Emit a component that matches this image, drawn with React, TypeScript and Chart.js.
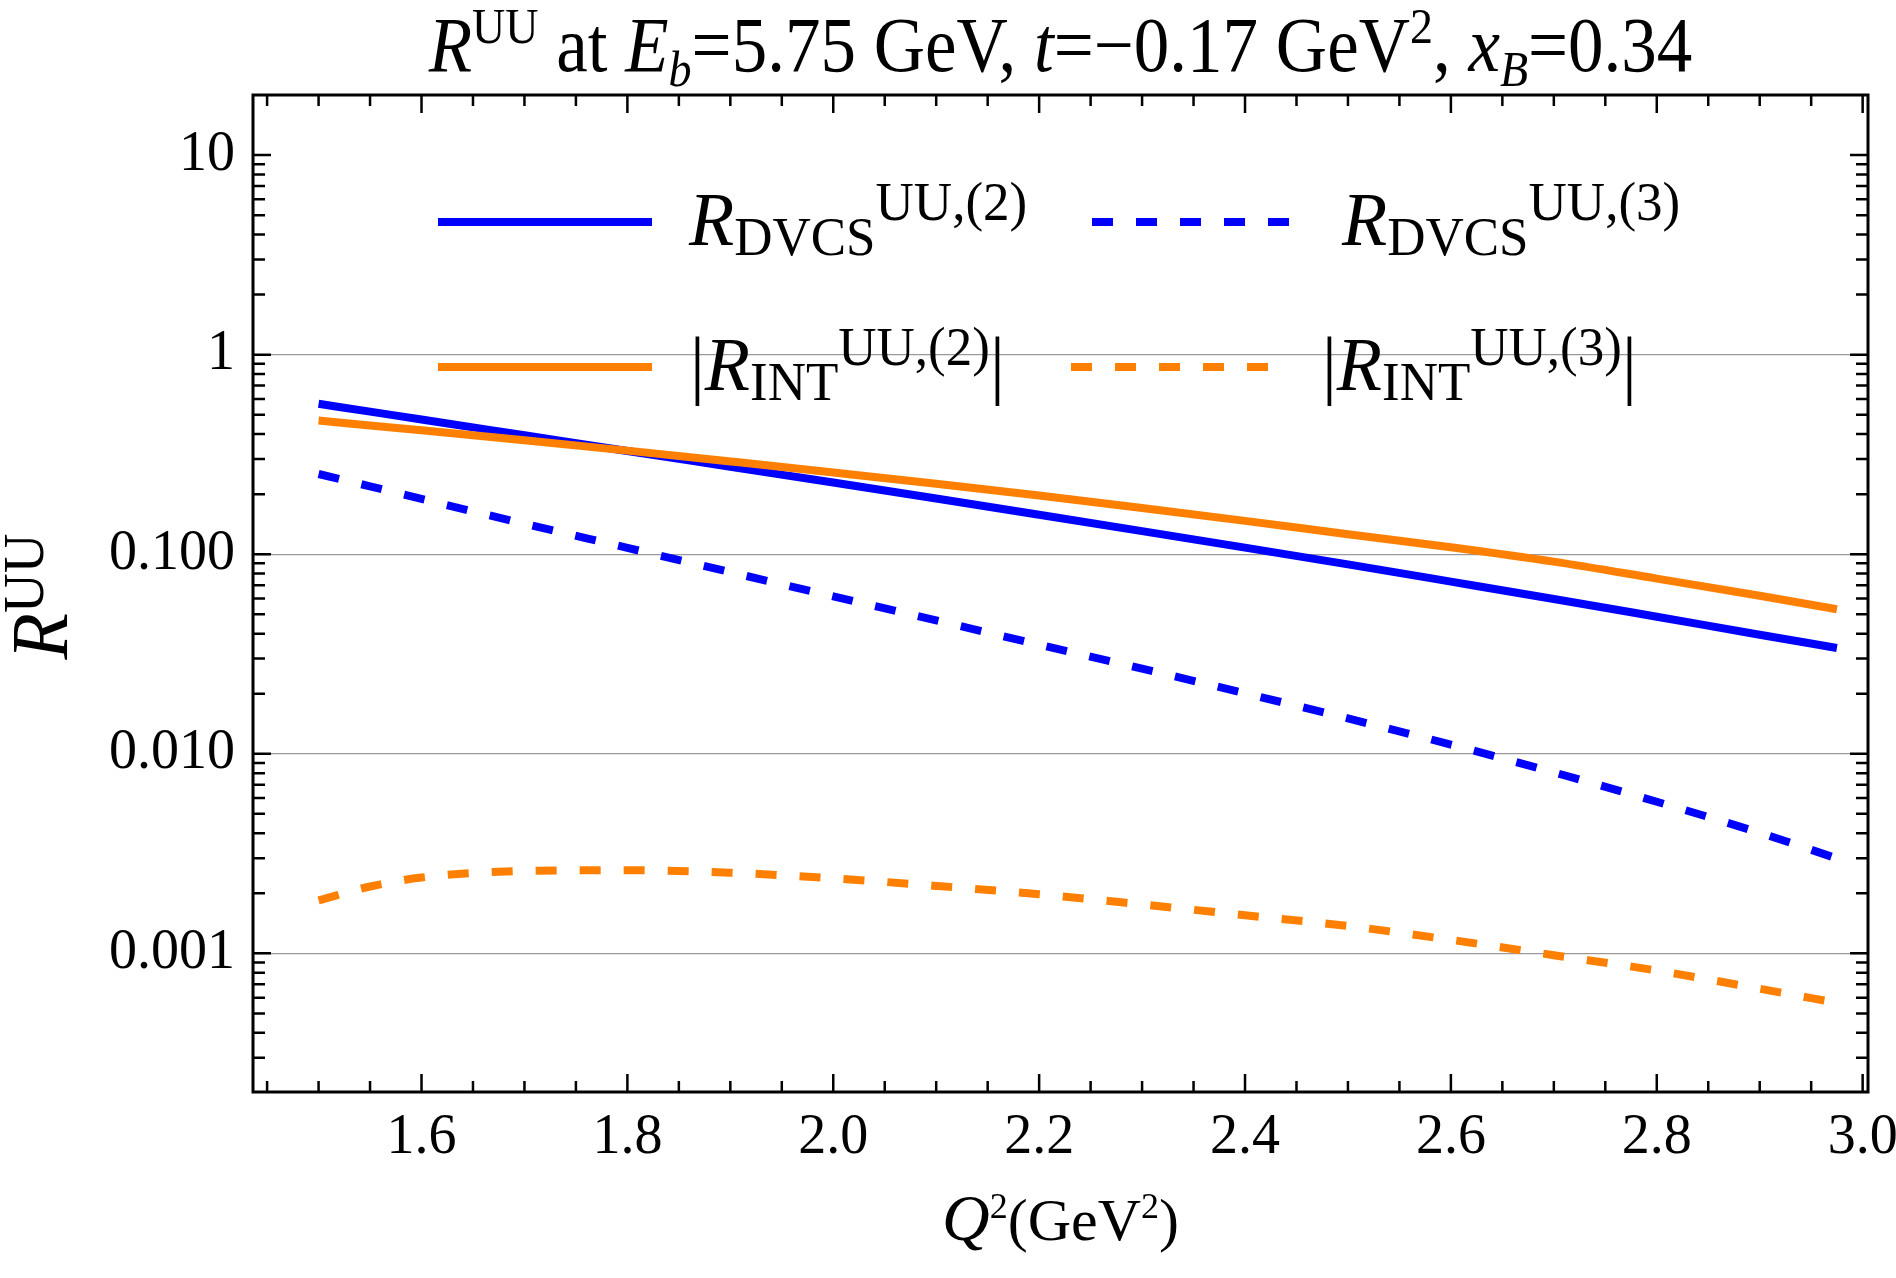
import { useEffect, useRef } from 'react';
import { Chart, registerables } from 'chart.js';

Chart.register(...registerables);

// ---------------- data ----------------
const Q2 = [1.5, 1.55, 1.6, 1.7, 1.8, 1.9, 2.0, 2.1, 2.2, 2.3, 2.4, 2.5, 2.6, 2.7, 2.8, 2.9, 2.975];

const R_DVCS_2 = [0.5675, 0.518, 0.4732, 0.3945, 0.3289, 0.2742, 0.2286, 0.1901, 0.1578, 0.1306, 0.1079, 0.0889, 0.0729, 0.0597, 0.0486, 0.0395, 0.0339];
const R_DVCS_3 = [0.2523, 0.2188, 0.1892, 0.1422, 0.1076, 0.0813, 0.0615, 0.0466, 0.0352, 0.0267, 0.0201, 0.01503, 0.01112, 0.00807, 0.00575, 0.00402, 0.00299];
const R_INT_2 = [0.4677, 0.4418, 0.4178, 0.3724, 0.3304, 0.2917, 0.257, 0.2254, 0.1968, 0.1706, 0.1469, 0.1259, 0.1084, 0.0918, 0.0755, 0.0619, 0.053];
const R_INT_3 = [0.001841, 0.002163, 0.002399, 0.002588, 0.002612, 0.002535, 0.002377, 0.002178, 0.001977, 0.001758, 0.001552, 0.001371, 0.001169, 0.000979, 0.00082, 0.000665, 0.000565];

const SERIES_NAMES = ['R_DVCS^UU,(2)', 'R_DVCS^UU,(3)', '|R_INT^UU,(2)|', '|R_INT^UU,(3)|'];

const X_TICKS = [1.6, 1.8, 2.0, 2.2, 2.4, 2.6, 2.8, 3.0];
const X_TICK_LABELS = ['1.6', '1.8', '2.0', '2.2', '2.4', '2.6', '2.8', '3.0'];
const Y_TICKS = [10, 1, 0.1, 0.01, 0.001];
const Y_TICK_LABELS = ['10', '1', '0.100', '0.010', '0.001'];

type Seg = { t: string; i?: boolean; s?: 'sup' | 'sub'; size?: number };

const TITLE: Seg[] = [
  { t: 'R', i: true }, { t: 'UU', s: 'sup' }, { t: ' at ' }, { t: 'E', i: true }, { t: 'b', i: true, s: 'sub' },
  { t: '=5.75 GeV, ' }, { t: 't', i: true }, { t: '=\u22120.17 GeV' }, { t: '2', s: 'sup' }, { t: ', ' },
  { t: 'x', i: true }, { t: 'B', i: true, s: 'sub' }, { t: '=0.34' },
];
const Y_TITLE: Seg[] = [{ t: 'R', i: true }, { t: 'UU', s: 'sup' }];
const X_TITLE: Seg[] = [{ t: 'Q', i: true, size: 66 }, { t: '2', s: 'sup' }, { t: '(GeV' }, { t: '2', s: 'sup' }, { t: ')' }];
const LEGEND_LABELS: Seg[][] = [
  [{ t: 'R', i: true }, { t: 'DVCS', s: 'sub' }, { t: 'UU,(2)', s: 'sup' }],
  [{ t: 'R', i: true }, { t: 'DVCS', s: 'sub' }, { t: 'UU,(3)', s: 'sup' }],
  [{ t: '|' }, { t: 'R', i: true }, { t: 'INT', s: 'sub' }, { t: 'UU,(2)', s: 'sup' }, { t: '|' }],
  [{ t: '|' }, { t: 'R', i: true }, { t: 'INT', s: 'sub' }, { t: 'UU,(3)', s: 'sup' }, { t: '|' }],
];

// ---------------- styling ----------------
const FAMILY = '"Liberation Serif", "Times New Roman", serif';
const BLUE = '#0000ff';
const ORANGE = '#ff8000';
const DASH = [21, 23];

type RichStyle = { main: number; script: number; sup: number; sub: number; stretch: number };

function segFont(seg: Seg, st: RichStyle) {
  const size = seg.size ?? (seg.s ? st.script : st.main);
  return `${seg.i ? 'italic ' : ''}${size}px ${FAMILY}`;
}
function richWidth(ctx: CanvasRenderingContext2D, segs: Seg[], st: RichStyle) {
  let w = 0;
  for (const s of segs) {
    ctx.font = segFont(s, st);
    w += ctx.measureText(s.t).width;
  }
  return w;
}
function drawRich(ctx: CanvasRenderingContext2D, segs: Seg[], x: number, y: number, st: RichStyle) {
  ctx.save();
  ctx.translate(x, y);
  ctx.scale(1, st.stretch);
  let cx = 0;
  ctx.textAlign = 'left';
  ctx.textBaseline = 'alphabetic';
  ctx.fillStyle = '#000';
  for (const s of segs) {
    ctx.font = segFont(s, st);
    const dy = s.s === 'sup' ? -st.sup : s.s === 'sub' ? st.sub : 0;
    ctx.fillText(s.t, cx, dy / st.stretch);
    cx += ctx.measureText(s.t).width;
  }
  ctx.restore();
  return cx;
}

const TITLE_STYLE: RichStyle = { main: 71, script: 46, sup: 28, sub: 15, stretch: 1.1 };
const YTITLE_STYLE: RichStyle = { main: 76, script: 55, sup: 24, sub: 0, stretch: 1.05 };
const XTITLE_STYLE: RichStyle = { main: 60, script: 36, sup: 22, sub: 0, stretch: 1 };
const LEGEND_STYLE: RichStyle = { main: 74, script: 53, sup: 25, sub: 10, stretch: 1.04 };

const LEGEND_LAYOUT = [
  { x0: 438, x1: 652, ly: 222, tx: 689, ty: 245 },
  { x0: 1092, x1: 1292, ly: 222, tx: 1342, ty: 245 },
  { x0: 438, x1: 652, ly: 367, tx: 690, ty: 390 },
  { x0: 1071, x1: 1268, ly: 367, tx: 1322, ty: 390 },
];

const decorPlugin = {
  id: 'decor',
  afterDraw(chart: any) {
    const ctx: CanvasRenderingContext2D = chart.ctx;
    const ca = chart.chartArea;
    const xs = chart.scales.x;
    const ys = chart.scales.y;
    ctx.save();

    // ticks (inward, all four sides)
    ctx.strokeStyle = '#000';
    ctx.lineWidth = 2.5;
    ctx.lineCap = 'butt';
    ctx.beginPath();
    for (let k = 28; k <= 61; k++) {
      const v = k * 0.05;
      const px = xs.getPixelForValue(v);
      if (px < ca.left + 2 || px > ca.right - 2) continue;
      const len = k % 4 === 0 ? 18 : 11;
      ctx.moveTo(px, ca.bottom);
      ctx.lineTo(px, ca.bottom - len);
      ctx.moveTo(px, ca.top);
      ctx.lineTo(px, ca.top + len);
    }
    for (let e = -4; e <= 1; e++) {
      for (let m = 1; m <= 9; m++) {
        const v = m * Math.pow(10, e);
        const py = ys.getPixelForValue(v);
        if (py < ca.top + 2 || py > ca.bottom - 2) continue;
        const len = m === 1 ? 18 : 12;
        ctx.moveTo(ca.left, py);
        ctx.lineTo(ca.left + len, py);
        ctx.moveTo(ca.right, py);
        ctx.lineTo(ca.right - len, py);
      }
    }
    ctx.stroke();

    // frame
    ctx.lineWidth = 3;
    ctx.strokeRect(ca.left, ca.top, ca.right - ca.left, ca.bottom - ca.top);

    const cx = (ca.left + ca.right) / 2;
    const cy = (ca.top + ca.bottom) / 2;

    // title
    const tw = richWidth(ctx, TITLE, TITLE_STYLE);
    drawRich(ctx, TITLE, cx - tw / 2, 71, TITLE_STYLE);

    // x title
    const xw = richWidth(ctx, X_TITLE, XTITLE_STYLE);
    drawRich(ctx, X_TITLE, cx - xw / 2, 1240, XTITLE_STYLE);

    // y title
    const yw = richWidth(ctx, Y_TITLE, YTITLE_STYLE);
    ctx.save();
    ctx.translate(67, cy + 3 + yw / 2);
    ctx.rotate(-Math.PI / 2);
    drawRich(ctx, Y_TITLE, 0, 0, YTITLE_STYLE);
    ctx.restore();

    // legend
    chart.data.datasets.forEach((ds: any, i: number) => {
      const L = LEGEND_LAYOUT[i];
      ctx.save();
      ctx.strokeStyle = ds.borderColor;
      ctx.lineWidth = ds.borderWidth;
      ctx.lineCap = 'butt';
      ctx.setLineDash(ds.borderDash || []);
      ctx.beginPath();
      ctx.moveTo(L.x0, L.ly);
      ctx.lineTo(L.x1, L.ly);
      ctx.stroke();
      ctx.restore();
      drawRich(ctx, LEGEND_LABELS[i], L.tx, L.ty, LEGEND_STYLE);
    });

    ctx.restore();
  },
};

function series(vals: number[]) {
  return Q2.map((q, i) => ({ x: q, y: vals[i] }));
}

export default function App() {
  const ref = useRef<HTMLCanvasElement>(null);

  useEffect(() => {
    const canvas = ref.current;
    if (!canvas) return;
    const common = {
      pointRadius: 0,
      borderWidth: 8,
      fill: false,
      cubicInterpolationMode: 'monotone' as const,
      borderCapStyle: 'butt' as const,
    };
    const chart = new Chart(canvas, {
      type: 'line',
      data: {
        datasets: [
          { ...common, label: SERIES_NAMES[0], data: series(R_DVCS_2), borderColor: BLUE, order: 1 },
          { ...common, label: SERIES_NAMES[1], data: series(R_DVCS_3), borderColor: BLUE, borderDash: DASH, order: 2 },
          { ...common, label: SERIES_NAMES[2], data: series(R_INT_2), borderColor: ORANGE, order: 0 },
          { ...common, label: SERIES_NAMES[3], data: series(R_INT_3), borderColor: ORANGE, borderDash: DASH, order: 3 },
        ],
      },
      options: {
        animation: false,
        responsive: true,
        maintainAspectRatio: false,
        devicePixelRatio: 1,
        layout: { padding: { left: 0, right: 28, top: 95, bottom: 0 } },
        plugins: { legend: { display: false }, title: { display: false }, tooltip: { enabled: false } },
        events: [],
        scales: {
          x: {
            type: 'linear',
            min: 1.4363,
            max: 3.0052,
            grid: { display: false, drawTicks: false },
            border: { display: false },
            ticks: {
              autoSkip: false,
              maxRotation: 0,
              padding: 13,
              color: '#000',
              font: { family: FAMILY, size: 56 },
              callback: (v: any) => {
                const idx = X_TICKS.findIndex((t) => Math.abs(t - Number(v)) < 1e-9);
                return idx >= 0 ? X_TICK_LABELS[idx] : '';
              },
            },
            afterBuildTicks: (scale: any) => {
              scale.ticks = X_TICKS.map((v) => ({ value: v }));
            },
            afterFit: (scale: any) => {
              scale.height = 186;
              scale.paddingLeft = 0;
              scale.paddingRight = 0;
            },
          },
          y: {
            type: 'logarithmic',
            min: 2.02e-4,
            max: 20,
            grid: {
              drawTicks: false,
              lineWidth: 1.2,
              color: (c: any) => (c.tick && c.tick.value === 10 ? 'rgba(0,0,0,0)' : '#9a9a9a'),
            },
            border: { display: false },
            ticks: {
              autoSkip: false,
              padding: 18,
              color: '#000',
              font: { family: FAMILY, size: 56 },
              callback: (v: any) => {
                const idx = Y_TICKS.findIndex((t) => Math.abs(t - Number(v)) / t < 1e-6);
                return idx >= 0 ? Y_TICK_LABELS[idx] : '';
              },
            },
            afterBuildTicks: (scale: any) => {
              scale.ticks = Y_TICKS.map((v) => ({ value: v }));
            },
            afterFit: (scale: any) => {
              scale.width = 253;
              scale.paddingTop = 0;
              scale.paddingBottom = 0;
            },
          },
        },
      } as any,
      plugins: [decorPlugin],
    });
    return () => chart.destroy();
  }, []);

  return (
    <div style={{ position: 'fixed', left: 0, top: 0, width: 1896, height: 1278, background: '#fff' }}>
      <canvas ref={ref} />
    </div>
  );
}
